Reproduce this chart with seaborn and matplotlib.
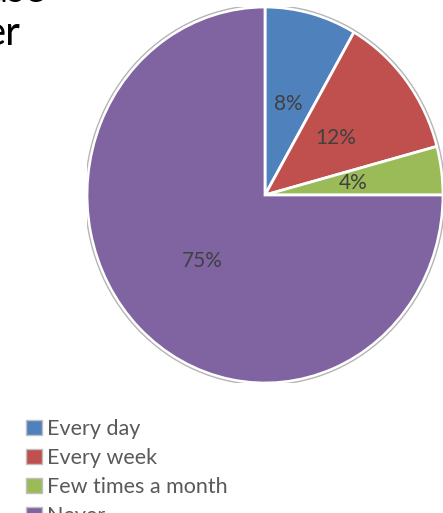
import matplotlib
matplotlib.use("Agg")
import matplotlib.pyplot as plt
import seaborn as sns
from matplotlib.patches import Patch, Ellipse

# Data (percent labels 8/12/4/75 -> counts 2/3/1/18)
categories = ["Every day", "Every week", "Few times a month", "Never"]
counts = [2, 3, 1, 18]
colors = ["#4F81BD", "#C0504D", "#9BBB59", "#8064A2"]

sns.set_theme(style="white")
plt.rcParams["font.family"] = ["Lato", "DejaVu Sans"]

W, H = 443, 513
fig = plt.figure(figsize=(W / 100, H / 100), dpi=100)

# pie area (slightly taller than wide, like the reference)
cx, cy, rx, ry = 265, 195, 178, 188
ax = fig.add_axes([(cx - rx) / W, (H - cy - ry) / H, 2 * rx / W, 2 * ry / H])

wedges, texts, autotexts = ax.pie(
    counts, colors=colors, startangle=90, counterclock=False,
    autopct="%1.0f%%", pctdistance=0.5,
    wedgeprops=dict(edgecolor="white", linewidth=2),
    textprops=dict(color="#404040", fontsize=15),
)
ax.add_patch(Ellipse((0, 0), 2.02, 2.02, fill=False, edgecolor="#b5b5b5", linewidth=1))
ax.set_aspect("auto")
ax.set_xlim(-1, 1)
ax.set_ylim(-1, 1)
ax.axis("off")

# legend
handles = [Patch(facecolor=c, edgecolor="#bfbfbf", linewidth=1) for c in colors]
fig.legend(handles, categories, loc="upper left",
           bbox_to_anchor=(26 / W, 1 - 419 / H), frameon=False,
           borderpad=0, borderaxespad=0, fontsize=15.5,
           handlelength=0.72, handleheight=0.72, handletextpad=0.25,
           labelspacing=0.42, labelcolor="#595959")

# title cut off by the crop at the top left
fig.text(-12 / W, 1 - 2 / H, "ase", fontsize=29, color="black", va="baseline")
fig.text(-16 / W, 1 - 45 / H, "er", fontsize=29, color="black", va="baseline")

fig.savefig("out.png", dpi=100)
